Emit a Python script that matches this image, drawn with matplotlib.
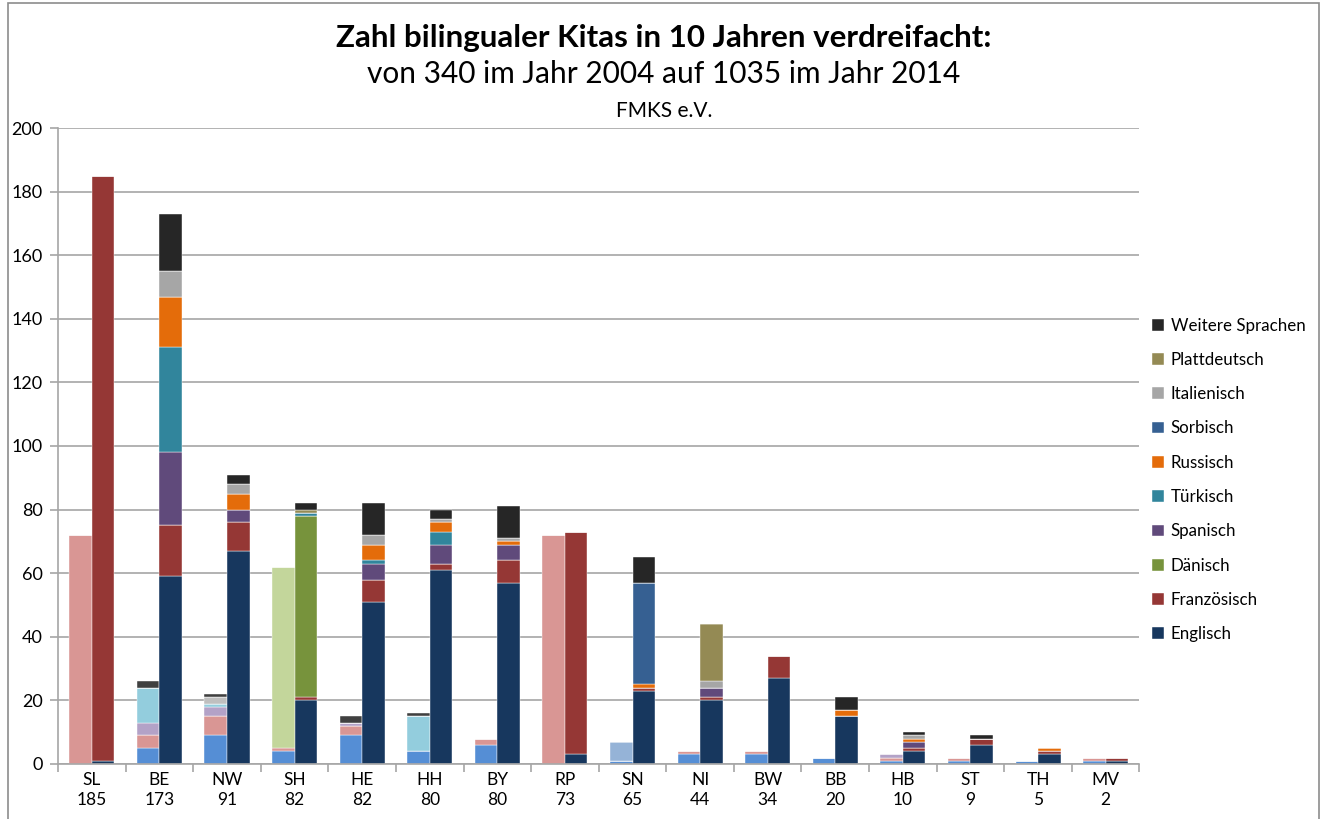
import numpy as np
import matplotlib
matplotlib.use("Agg")
import matplotlib.pyplot as plt
from matplotlib.patches import Rectangle

plt.rcParams['font.family'] = ['Lato', 'DejaVu Sans']

states = ["SL", "BE", "NW", "SH", "HE", "HH", "BY", "RP", "SN", "NI", "BW", "BB", "HB", "ST", "TH", "MV"]
totals = [185, 173, 91, 82, 82, 80, 80, 73, 65, 44, 34, 20, 10, 9, 5, 2]

languages = ["Englisch", "Französisch", "Dänisch", "Spanisch", "Türkisch",
             "Russisch", "Sorbisch", "Italienisch", "Plattdeutsch", "Weitere Sprachen"]

# Kitas 2004 (light bars)
eng_2004 = [0, 5, 9, 4, 9, 4, 6, 0, 1, 3, 3, 2, 1, 1, 1, 1]
fra_2004 = [72, 4, 6, 1, 3, 0, 2, 72, 0, 1, 1, 0, 1, 1, 0, 1]
dan_2004 = [0, 0, 0, 57, 0, 0, 0, 0, 0, 0, 0, 0, 0, 0, 0, 0]
spa_2004 = [0, 4, 3, 0, 1, 0, 0, 0, 0, 0, 0, 0, 1, 0, 0, 0]
tur_2004 = [0, 11, 1, 0, 0, 11, 0, 0, 0, 0, 0, 0, 0, 0, 0, 0]
rus_2004 = [0, 0, 0, 0, 0, 0, 0, 0, 0, 0, 0, 0, 0, 0, 0, 0]
sor_2004 = [0, 0, 0, 0, 0, 0, 0, 0, 6, 0, 0, 0, 0, 0, 0, 0]
ita_2004 = [0, 0, 2, 0, 0, 0, 0, 0, 0, 0, 0, 0, 0, 0, 0, 0]
pla_2004 = [0, 0, 0, 0, 0, 0, 0, 0, 0, 0, 0, 0, 0, 0, 0, 0]
wei_2004 = [0, 2, 1, 0, 2, 1, 0, 0, 0, 0, 0, 0, 0, 0, 0, 0]

# Kitas 2014 (dark bars)
eng_2014 = [1, 59, 67, 20, 51, 61, 57, 3, 23, 20, 27, 15, 4, 6, 3, 1]
fra_2014 = [184, 16, 9, 1, 7, 2, 7, 70, 1, 1, 7, 0, 1, 2, 1, 1]
dan_2014 = [0, 0, 0, 57, 0, 0, 0, 0, 0, 0, 0, 0, 0, 0, 0, 0]
spa_2014 = [0, 23, 4, 0, 5, 6, 5, 0, 0, 3, 0, 0, 2, 0, 0, 0]
tur_2014 = [0, 33, 0, 1, 1, 4, 0, 0, 0, 0, 0, 0, 0, 0, 0, 0]
rus_2014 = [0, 16, 5, 0, 5, 3, 1, 0, 1, 0, 0, 2, 1, 0, 1, 0]
sor_2014 = [0, 0, 0, 0, 0, 0, 0, 0, 32, 0, 0, 0, 0, 0, 0, 0]
ita_2014 = [0, 8, 3, 0, 3, 1, 1, 0, 0, 2, 0, 0, 1, 0, 0, 0]
pla_2014 = [0, 0, 0, 1, 0, 0, 0, 0, 0, 18, 0, 0, 0, 0, 0, 0]
wei_2014 = [0, 18, 3, 2, 10, 3, 10, 0, 8, 0, 0, 4, 1, 1, 0, 0]

data_2004 = [eng_2004, fra_2004, dan_2004, spa_2004, tur_2004, rus_2004, sor_2004, ita_2004, pla_2004, wei_2004]
data_2014 = [eng_2014, fra_2014, dan_2014, spa_2014, tur_2014, rus_2014, sor_2014, ita_2014, pla_2014, wei_2014]

colors_2004 = ["#558ED5", "#D99694", "#C3D69B", "#B3A2C7", "#93CDDD",
               "#FAC090", "#95B3D7", "#BFBFBF", "#C4BD97", "#404040"]
colors_2014 = ["#17375E", "#953735", "#77933C", "#604A7B", "#31859C",
               "#E46C0A", "#366092", "#A6A6A6", "#948A54", "#262626"]

fig = plt.figure(figsize=(13.28, 8.19), dpi=100)
ax = fig.add_axes([0.0437, 0.0672, 0.8143, 0.7765])

x = np.arange(len(states))
w = 0.333

bottom = np.zeros(len(states))
for vals, col in zip(data_2004, colors_2004):
    ax.bar(x - w / 2, vals, w, bottom=bottom, color=col, edgecolor="white", linewidth=0.3)
    bottom += np.array(vals)

handles = []
bottom = np.zeros(len(states))
for vals, col, lang in zip(data_2014, colors_2014, languages):
    b = ax.bar(x + w / 2, vals, w, bottom=bottom, color=col, edgecolor="white", linewidth=0.3, label=lang)
    handles.append(b)
    bottom += np.array(vals)

ax.set_xlim(-0.5, len(states) - 0.5)
ax.set_ylim(0, 200)
ax.set_yticks(range(0, 201, 20))
ax.yaxis.grid(True, color="#A6A6A6", linewidth=1.2)
ax.set_axisbelow(True)

ax.set_xticks(np.arange(-0.5, len(states), 1))
ax.set_xticklabels([])
ax.set_xticks(x, minor=True)
ax.set_xticklabels([f"{s}\n{t}" for s, t in zip(states, totals)], minor=True, fontsize=12.5, linespacing=1.25)
ax.tick_params(axis="x", which="major", length=6, color="#A6A6A6", width=1.2)
ax.tick_params(axis="x", which="minor", length=0, pad=6)
ax.tick_params(axis="y", length=6, color="#A6A6A6", width=1.2, labelsize=13, pad=5)

for side in ["top", "right"]:
    ax.spines[side].set_visible(False)
for side in ["left", "bottom"]:
    ax.spines[side].set_color("#A6A6A6")
    ax.spines[side].set_linewidth(1.2)

fig.legend(handles[::-1], languages[::-1], loc="center left", bbox_to_anchor=(0.856, 0.414),
           frameon=False, fontsize=12.2, handlelength=0.7, handleheight=0.7,
           handletextpad=0.4, labelspacing=1.08)

fig.text(0.5, 0.953, "Zahl bilingualer Kitas in 10 Jahren verdreifacht:", ha="center", va="center",
         fontsize=22.5, fontweight="bold")
fig.text(0.5, 0.91, "von 340 im Jahr 2004 auf 1035 im Jahr 2014", ha="center", va="center", fontsize=21.5)
fig.text(0.5, 0.865, "FMKS e.V.", ha="center", va="center", fontsize=15)

fig.patches.append(Rectangle((0.006, -0.01), 0.987, 1.006, transform=fig.transFigure,
                             fill=False, edgecolor="#8C8C8C", linewidth=1.2))

fig.savefig("out.png", dpi=100)
